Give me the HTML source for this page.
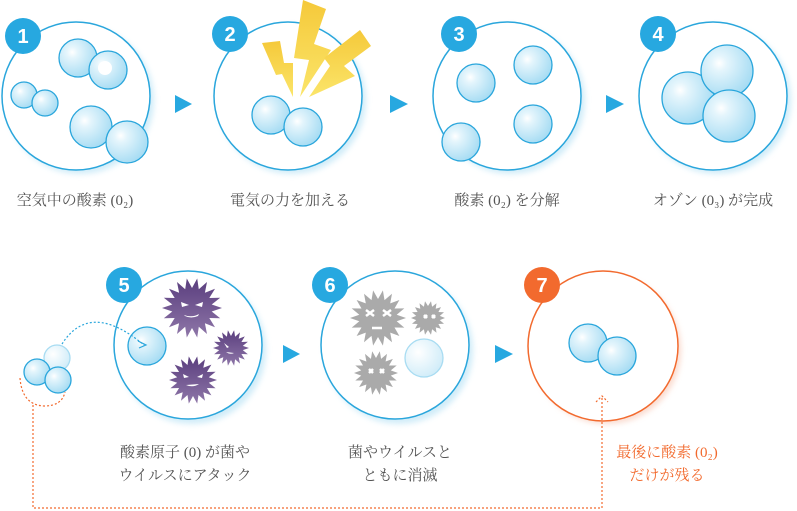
<!DOCTYPE html>
<html><head><meta charset="utf-8"><style>
body{margin:0;background:#fff;}
svg{display:block;font-family:"Liberation Serif","Noto Serif CJK SC",serif;}
</style></head><body>
<svg id="s" width="797" height="511" viewBox="0 0 797 511" xmlns="http://www.w3.org/2000/svg">
<defs>
<radialGradient id="b" cx="0.35" cy="0.35" r="0.75">
<stop offset="0" stop-color="#ffffff"/><stop offset="0.2" stop-color="#e4f5fc"/><stop offset="1" stop-color="#9fd9f2"/></radialGradient>
<radialGradient id="bp" cx="0.35" cy="0.35" r="0.75">
<stop offset="0" stop-color="#ffffff"/><stop offset="1" stop-color="#cdebf8"/></radialGradient>
<linearGradient id="y" x1="0" y1="0" x2="0" y2="1"><stop offset="0" stop-color="#f5c93a"/><stop offset="1" stop-color="#fbe56a"/></linearGradient>
<linearGradient id="v" x1="0" y1="0" x2="0" y2="1"><stop offset="0" stop-color="#5a3e7e"/><stop offset="1" stop-color="#8e76a8"/></linearGradient>
<filter id="sh" x="-20%" y="-20%" width="140%" height="140%"><feGaussianBlur stdDeviation="3"/></filter>
</defs>
<g fill="none" stroke-width="1.5">
<g fill="#c6e8f7" filter="url(#sh)" opacity="0.8">
<circle cx="80" cy="100" r="74"/><circle cx="292" cy="100" r="74"/><circle cx="511" cy="100" r="74"/><circle cx="717" cy="100" r="74"/>
<circle cx="192" cy="350" r="74"/><circle cx="399" cy="350" r="74"/></g>
<circle cx="607" cy="350" r="74" fill="#f9d3c4" filter="url(#sh)" opacity="0.8"/>
<g fill="#fff" stroke="#2aa6dc">
<circle cx="76" cy="96" r="74"/><circle cx="288" cy="96" r="74"/><circle cx="507" cy="96" r="74"/><circle cx="713" cy="96" r="74"/>
<circle cx="188" cy="345" r="74"/><circle cx="395" cy="345" r="74"/></g>
<circle cx="603" cy="346" r="75" fill="#fff" stroke="#f26a2e"/>
</g>
<!-- bolts -->
<g fill="url(#y)">
<polygon points="262,43 280,41 284,63 293,63 293,97 282,74 276,75"/>
<polygon points="303,0 326,9 314,44 331,50 300,97 309,60 294,58"/>
<polygon points="360,30 371,46 344,66 355,76 309,97 330,66 324,58"/>
</g>
<!-- bubbles -->
<g stroke="#2aa6dc" stroke-width="1.3" fill="url(#b)">
<circle cx="78" cy="58" r="19"/><circle cx="108" cy="70" r="19"/><circle cx="24" cy="95" r="13"/><circle cx="45" cy="103" r="13"/>
<circle cx="91" cy="127" r="21"/><circle cx="127" cy="142" r="21"/>
<circle cx="271" cy="115" r="19"/><circle cx="303" cy="127" r="19"/>
<circle cx="476" cy="83" r="19"/><circle cx="533" cy="65" r="19"/><circle cx="533" cy="124" r="19"/><circle cx="461" cy="142" r="19"/>
<circle cx="688" cy="98" r="26"/><circle cx="727" cy="71" r="26"/><circle cx="729" cy="116" r="26"/>
<circle cx="147" cy="346" r="19"/>
<circle cx="588" cy="343" r="19"/><circle cx="617" cy="356" r="19"/>
<circle cx="57" cy="358" r="13" fill="url(#bp)" stroke="#a8dcf2"/><circle cx="37" cy="372" r="13"/><circle cx="58" cy="380" r="13"/>
<circle cx="424" cy="358" r="19" fill="url(#bp)" stroke="#a8dcf2"/>
</g>
<circle cx="105" cy="68" r="7" fill="#fff"/>
<g id="vir"></g>
<g fill="#fff"><path d="M181 302l8 3-7 2z M203 302l-8 3 7 2z M184 315q8 3 15 -1 l-1 2 q-7 3 -13 0z"/>
<path d="M224 343l5 4-2 1z M226 352q4 3 8 1"/><path d="M183 374l6 3-5 1z M203 374l-6 3 5 1z M186 385q7 3 13 -1"/></g>
<g stroke="#fff" stroke-width="2.5"><path d="M366 310l8 6M374 310l-8 6M383 310l8 6M391 310l-8 6M372 328h10M369 369l4 4M373 369l-4 4M380 369l4 4M384 369l-4 4M424 315l3 3M427 315l-3 3M432 315l3 3M435 315l-3 3"/></g>
<!-- dotted paths -->
<path d="M62 344 Q90 300 144 345" fill="none" stroke="#2aa6dc" stroke-width="1.2" stroke-dasharray="2 2"/>
<path d="M138 341l8 4-7 3" fill="none" stroke="#2aa6dc" stroke-width="1.2"/>
<path d="M20 378 Q22 405 44 406 Q62 406 65 392 M33 405 V508 H602 V396 M596 402l6-6 6 6" fill="none" stroke="#f26a2e" stroke-width="1.2" stroke-dasharray="2 2"/>
<!-- arrows -->
<g fill="#27a8e0">
<polygon points="175,95 192,104 175,113"/><polygon points="390,95 408,104 390,113"/><polygon points="606,95 624,104 606,113"/>
<polygon points="283,345 300,354 283,363"/><polygon points="495,345 513,354 495,363"/></g>
<!-- badges -->
<g font-family="Liberation Sans,sans-serif" font-weight="bold" font-size="20" fill="#fff" text-anchor="middle">
<circle cx="23" cy="36" r="18" fill="#27a8e0"/><text x="23" y="43">1</text>
<circle cx="230" cy="34" r="18" fill="#27a8e0"/><text x="230" y="41">2</text>
<circle cx="459" cy="34" r="18" fill="#27a8e0"/><text x="459" y="41">3</text>
<circle cx="658" cy="34" r="18" fill="#27a8e0"/><text x="658" y="41">4</text>
<circle cx="124" cy="285" r="18" fill="#27a8e0"/><text x="124" y="292">5</text>
<circle cx="330" cy="285" r="18" fill="#27a8e0"/><text x="330" y="292">6</text>
<circle cx="542" cy="285" r="18" fill="#f26a2e"/><text x="542" y="292">7</text>
</g>
<g font-size="15" fill="#555" text-anchor="middle">
<text x="75" y="205">空気中の酸素 (0₂)</text>
<text x="290" y="205">電気の力を加える</text>
<text x="507" y="205">酸素 (0₂) を分解</text>
<text x="713" y="205">オゾン (0₃) が完成</text>
<text x="185" y="457">酸素原子 (0) が菌や</text>
<text x="185" y="480">ウイルスにアタック</text>
<text x="400" y="457">菌やウイルスと</text>
<text x="400" y="480">ともに消滅</text>
<g fill="#f26a2e"><text x="667" y="457">最後に酸素 (0₂)</text><text x="667" y="480">だけが残る</text></g>
</g>
</svg>
<script>
(function(){
var g=document.getElementById('vir'),ns='http://www.w3.org/2000/svg';
var v=[[192,308,20,30,'url(#v)'],[231,348,12,18,'url(#v)'],[193,380,16,24,'url(#v)'],
[378,318,19,28,'#aaa'],[428,318,12,17,'#aaa'],[376,373,15,22,'#aaa']];
v.forEach(function(a){var n=18,p=[];for(var i=0;i<2*n;i++){var r=i%2?a[2]:a[3],t=Math.PI*i/n;p.push((a[0]+r*Math.cos(t)).toFixed(1)+','+(a[1]+r*Math.sin(t)).toFixed(1));}
var e=document.createElementNS(ns,'polygon');e.setAttribute('points',p.join(' '));e.setAttribute('fill',a[4]);g.appendChild(e);});
})();
</script>
</body></html>
